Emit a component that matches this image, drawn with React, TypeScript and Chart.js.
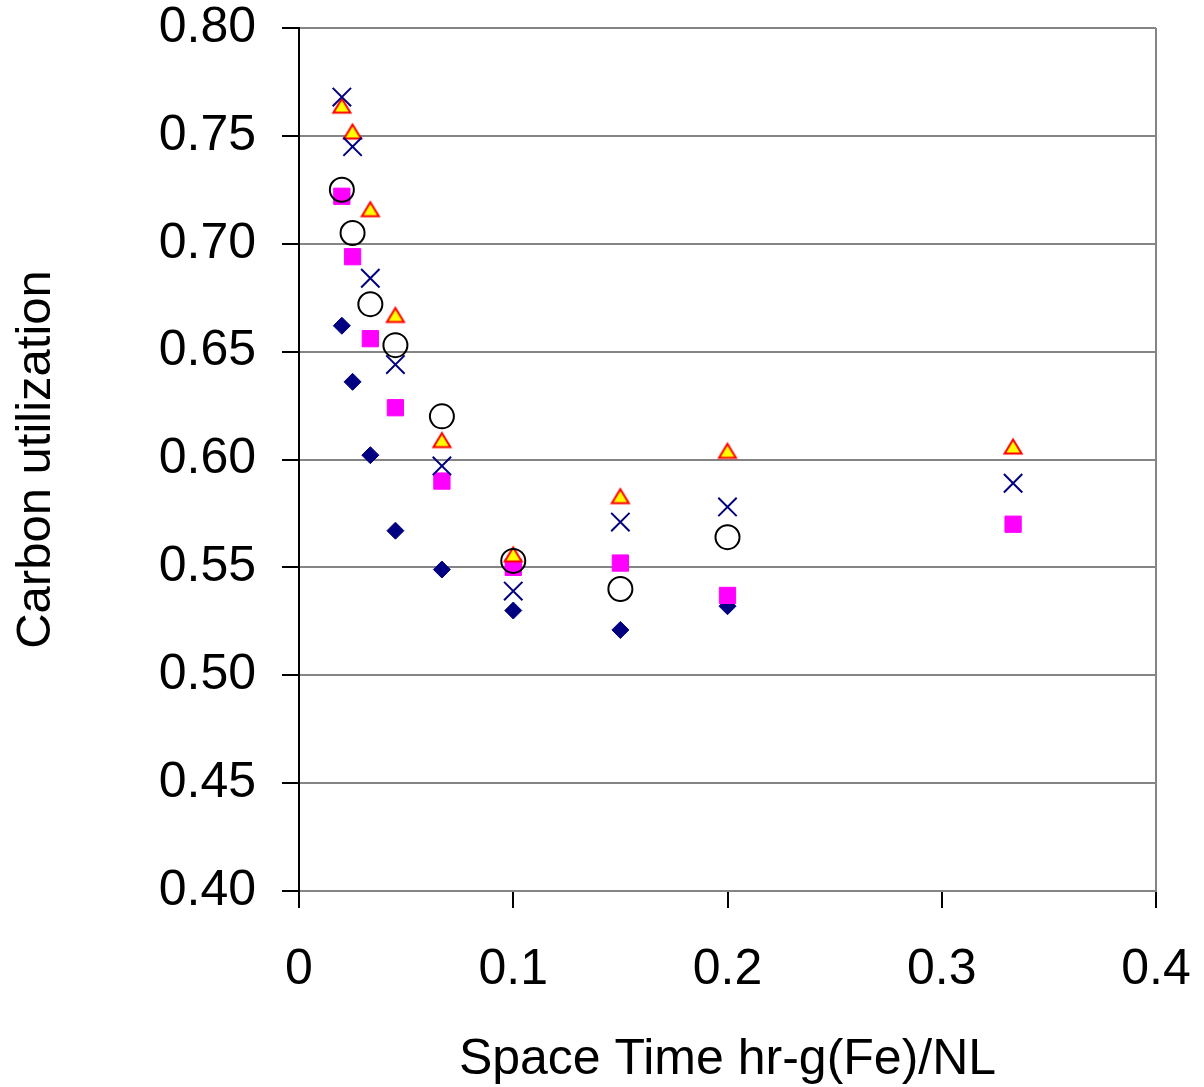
import React, { useEffect, useRef } from "react";
import { Chart, registerables } from "chart.js";

Chart.register(...registerables);

// Space time values, hr-g(Fe)/NL
const spaceTime = [0.02, 0.025, 0.0333, 0.045, 0.0667, 0.1, 0.15, 0.2, 0.3333];

// Carbon utilization per series (null = no point)
const seriesDiamond = [0.662, 0.636, 0.602, 0.567, 0.549, 0.530, 0.521, 0.532, null];
const seriesSquare = [0.722, 0.694, 0.656, 0.624, 0.590, 0.550, 0.552, 0.537, 0.570];
const seriesTriangle = [0.764, 0.752, 0.716, 0.667, 0.609, 0.556, 0.583, 0.604, 0.606];
const seriesCross = [0.768, 0.745, 0.684, 0.644, 0.597, 0.539, 0.571, 0.578, 0.589];
const seriesCircle = [0.725, 0.705, 0.672, 0.653, 0.620, 0.553, 0.540, 0.564, null];

const yTicks = [0.4, 0.45, 0.5, 0.55, 0.6, 0.65, 0.7, 0.75, 0.8];
const xTicks = [0, 0.1, 0.2, 0.3, 0.4];

const xTitle = "Space Time hr-g(Fe)/NL";
const yTitle = "Carbon utilization";

const FONT = "'Liberation Sans', Arial, sans-serif";

function toPoints(ys: (number | null)[]) {
  const out: { x: number; y: number }[] = [];
  ys.forEach((y, i) => {
    if (y !== null) out.push({ x: spaceTime[i], y });
  });
  return out;
}

function makeTriangle(): HTMLCanvasElement {
  const c = document.createElement("canvas");
  c.width = 22;
  c.height = 19;
  const g = c.getContext("2d")!;
  g.beginPath();
  g.moveTo(11, 2.5);
  g.lineTo(19.5, 16.5);
  g.lineTo(2.5, 16.5);
  g.closePath();
  g.fillStyle = "#FFFF00";
  g.fill();
  g.lineWidth = 2;
  g.strokeStyle = "#FF0000";
  g.lineJoin = "miter";
  g.stroke();
  return c;
}

function zeroPad(scale: any) {
  scale.paddingTop = 0;
  scale.paddingBottom = 0;
  scale.paddingLeft = 0;
  scale.paddingRight = 0;
}

export default function App() {
  const ref = useRef<HTMLCanvasElement | null>(null);

  useEffect(() => {
    document.body.style.margin = "0";
    const canvas = ref.current!;
    const tri = makeTriangle();
    const chart = new Chart(canvas, {
      type: "scatter",
      data: {
        datasets: [
          {
            label: "Series 5",
            data: toPoints(seriesCircle),
            pointStyle: "circle",
            pointRadius: 12,
            pointHoverRadius: 12,
            borderWidth: 2,
            borderColor: "#000000",
            backgroundColor: "rgba(0,0,0,0)",
            order: 0,
          },
          {
            label: "Series 4",
            data: toPoints(seriesCross),
            pointStyle: "crossRot",
            pointRadius: 13,
            pointHoverRadius: 13,
            borderWidth: 2,
            borderColor: "#000080",
            backgroundColor: "#000080",
            order: 1,
          },
          {
            label: "Series 3",
            data: toPoints(seriesTriangle),
            pointStyle: tri,
            pointRadius: 9,
            pointHoverRadius: 9,
            order: 2,
          },
          {
            label: "Series 2",
            data: toPoints(seriesSquare),
            pointStyle: "rect",
            pointRadius: 11.5,
            pointHoverRadius: 11.5,
            borderWidth: 1,
            borderColor: "#FF00FF",
            backgroundColor: "#FF00FF",
            order: 3,
          },
          {
            label: "Series 1",
            data: toPoints(seriesDiamond),
            pointStyle: "rectRot",
            pointRadius: 8.5,
            pointHoverRadius: 8.5,
            borderWidth: 1,
            borderColor: "#000080",
            backgroundColor: "#000080",
            order: 4,
          },
        ],
      },
      options: {
        responsive: false,
        animation: false,
        devicePixelRatio: 1,
        layout: { padding: { top: 28, right: 48, bottom: 0, left: 0 } },
        plugins: {
          legend: { display: false },
          tooltip: { enabled: false },
        },
        scales: {
          x: {
            type: "linear",
            min: 0,
            max: 0.4,
            afterBuildTicks: (scale: any) => {
              scale.ticks = xTicks.map((v) => ({ value: v }));
            },
            afterFit: (scale: any) => {
              scale.height = 196;
              zeroPad(scale);
            },
            ticks: {
              font: { family: FONT, size: 50, lineHeight: 1 },
              color: "#000000",
              padding: 37,
              maxRotation: 0,
              autoSkip: false,
              callback: (v: any) => (Number(v) === 0 ? "0" : Number(v).toFixed(1)),
            },
            grid: {
              display: true,
              drawTicks: true,
              tickLength: 17,
              lineWidth: 2,
              tickWidth: 2,
              tickColor: "#000000",
              color: (ctx: any) =>
                ctx.tick && Math.abs(ctx.tick.value - 0.4) < 1e-9 ? "#858585" : "rgba(0,0,0,0)",
            },
            border: { display: true, color: "#858585", width: 2 },
            title: {
              display: true,
              text: xTitle,
              color: "#000000",
              font: { family: FONT, size: 50, lineHeight: 1 },
              padding: { top: 0, bottom: 2 },
            },
          },
          y: {
            type: "linear",
            min: 0.4,
            max: 0.8,
            afterBuildTicks: (scale: any) => {
              scale.ticks = yTicks.map((v) => ({ value: v }));
            },
            afterFit: (scale: any) => {
              scale.width = 299;
              zeroPad(scale);
            },
            ticks: {
              font: { family: FONT, size: 50, lineHeight: 1 },
              color: "#000000",
              padding: 26,
              autoSkip: false,
              callback: (v: any) => Number(v).toFixed(2),
            },
            grid: {
              display: true,
              drawTicks: true,
              tickLength: 17,
              lineWidth: 2,
              tickWidth: 2,
              tickColor: "#000000",
              color: "#858585",
            },
            border: { display: true, color: "#000000", width: 2 },
            title: {
              display: true,
              text: yTitle,
              color: "#000000",
              font: { family: FONT, size: 49, lineHeight: 1 },
              padding: { top: 12, bottom: 0 },
            },
          },
        },
      },
    } as any);
    return () => chart.destroy();
  }, []);

  return (
    <div style={{ position: "absolute", left: 0, top: 0, width: 1204, height: 1087 }}>
      <canvas ref={ref} width={1204} height={1087} style={{ width: 1204, height: 1087, display: "block" }} />
    </div>
  );
}
